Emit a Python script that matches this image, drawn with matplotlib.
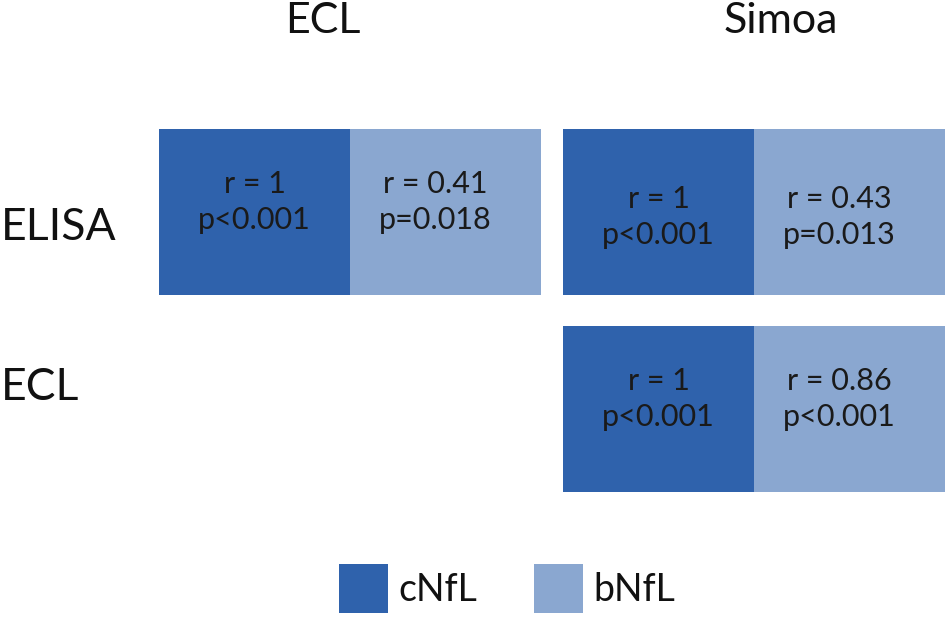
import matplotlib
matplotlib.use("Agg")
import matplotlib.pyplot as plt
from matplotlib.patches import Rectangle

plt.rcParams['font.family'] = ['Lato', 'DejaVu Sans']
plt.rcParams['font.weight'] = 'normal'

# ---- data ----
col_labels = ["ECL", "Simoa"]
row_labels = ["ELISA", "ECL"]
series = ["cNfL", "bNfL"]
# panels: (row index, col index)
panel_pos = [(0, 0), (0, 1), (1, 1)]
r_values = [["1", "0.41"], ["1", "0.43"], ["1", "0.86"]]
p_values = [["p<0.001", "p=0.018"], ["p<0.001", "p=0.013"], ["p<0.001", "p<0.001"]]

colors = ["#2F62AC", "#8AA7D0"]

# ---- layout (pixels) ----
W, H = 949, 617
fig = plt.figure(figsize=(W / 100, H / 100), dpi=100)
ax = fig.add_axes([0, 0, 1, 1])
ax.set_xlim(0, W)
ax.set_ylim(H, 0)
ax.axis("off")

col_x = [159, 563]
cell_w = 191
row_y = [128.5, 326]
cell_h = 166
text_center = [202, 217, 399]
line_gap = 36.5
light_shift = -10

for k, (ri, ci) in enumerate(panel_pos):
    x0 = col_x[ci]
    y0 = row_y[ri]
    for j in range(2):
        ax.add_patch(Rectangle((x0 + j * cell_w, y0), cell_w, cell_h,
                               facecolor=colors[j], edgecolor="none"))
        cx = x0 + j * cell_w + cell_w / 2 + (light_shift if j == 1 else 0)
        cy = text_center[k]
        ax.text(cx, cy - line_gap / 2, f"r = {r_values[k][j]}", ha="center",
                va="center", fontsize=22, color="#1a1a1a")
        ax.text(cx, cy + line_gap / 2, p_values[k][j], ha="center",
                va="center", fontsize=22, color="#1a1a1a")

# column titles
title_x = [323, 781]
for t, x in zip(col_labels, title_x):
    ax.text(x, 21, t, ha="center", va="center", fontsize=31, color="#111111")

# row labels
row_label_y = [228, 388]
for t, y in zip(row_labels, row_label_y):
    ax.text(1, y, t, ha="left", va="center", fontsize=32, color="#111111")

# legend
leg_x = [339, 534]
for j, (name, x) in enumerate(zip(series, leg_x)):
    ax.add_patch(Rectangle((x, 564), 49, 49, facecolor=colors[j], edgecolor="none"))
    ax.text(x + 59, 590, name, ha="left", va="center", fontsize=27, color="#111111")

fig.savefig("out.png", dpi=100)
